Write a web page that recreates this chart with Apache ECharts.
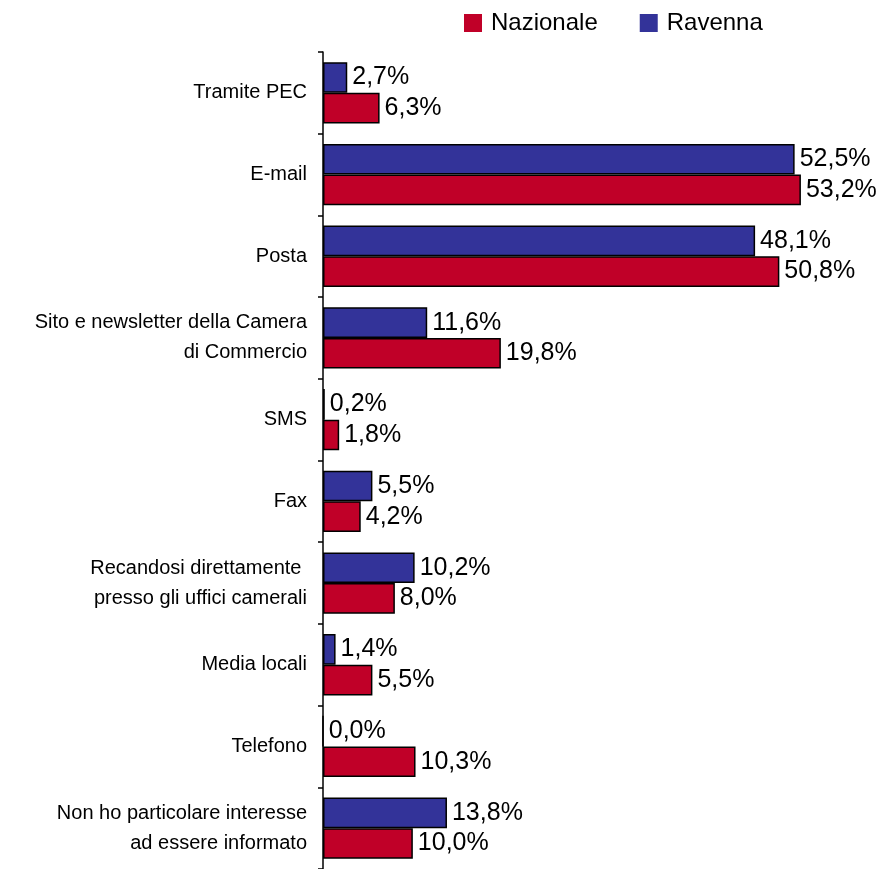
<!DOCTYPE html>
<html><head><meta charset="utf-8">
<script src="https://cdn.jsdelivr.net/npm/echarts@6/dist/echarts.min.js"></script>
<style>html,body{margin:0;padding:0;background:#fff}#c{width:884px;height:869px}</style>
</head><body><div id="c"></div>
<script>
const categories = ["Tramite PEC","E-mail","Posta","Sito e newsletter della Camera\ndi Commercio","SMS","Fax","Recandosi direttamente \npresso gli uffici camerali","Media locali","Telefono","Non ho particolare interesse\nad essere informato"];
const ravenna = [2.7,52.5,48.1,11.6,0.2,5.5,10.2,1.4,0.0,13.8];
const nazionale = [6.3,53.2,50.8,19.8,1.8,4.2,8.0,5.5,10.3,10.0];
const seriesNames = ["Nazionale","Ravenna"];

const fmt = p => p.value.toFixed(1).replace('.', ',') + '%';
const chart = echarts.init(document.getElementById('c'), null, {renderer:'canvas'});
const FF = 'Liberation Sans, Arial, sans-serif';
const lbl = {show:true, position:'right', distance:5, formatter:fmt, color:'#000', fontSize:25, fontFamily:FF};
chart.setOption({
  animation:false,
  textStyle:{fontFamily:FF},
  legend:{data:seriesNames, left:459, top:6, itemWidth:18, itemHeight:18, itemGap:42,
    icon:'rect', itemStyle:{borderWidth:0},
    textStyle:{fontSize:24,color:'#000',padding:[0,0,0,4],fontFamily:FF}},
  grid:{left:323, top:52, width:539, bottom:0, containLabel:false},
  xAxis:{type:'value', min:0, max:60, show:false},
  yAxis:{type:'category', data:categories, inverse:true,
    axisLine:{lineStyle:{color:'#000',width:1.5}},
    axisTick:{show:true, length:5, inside:false, lineStyle:{color:'#000',width:1.5}},
    axisLabel:{fontSize:20, color:'#000', margin:16, align:'right', lineHeight:30, fontFamily:FF}},
  series:[
    {name:seriesNames[1], type:'bar', data:ravenna, barGap:'0%', barCategoryGap:'25%',
     itemStyle:{color:'#333399', borderColor:'#000', borderWidth:1.5}, label:lbl},
    {name:seriesNames[0], type:'bar', data:nazionale, barGap:'0%', barCategoryGap:'25%',
     itemStyle:{color:'#C00028', borderColor:'#000', borderWidth:1.5}, label:lbl}
  ]
});
</script></body></html>
